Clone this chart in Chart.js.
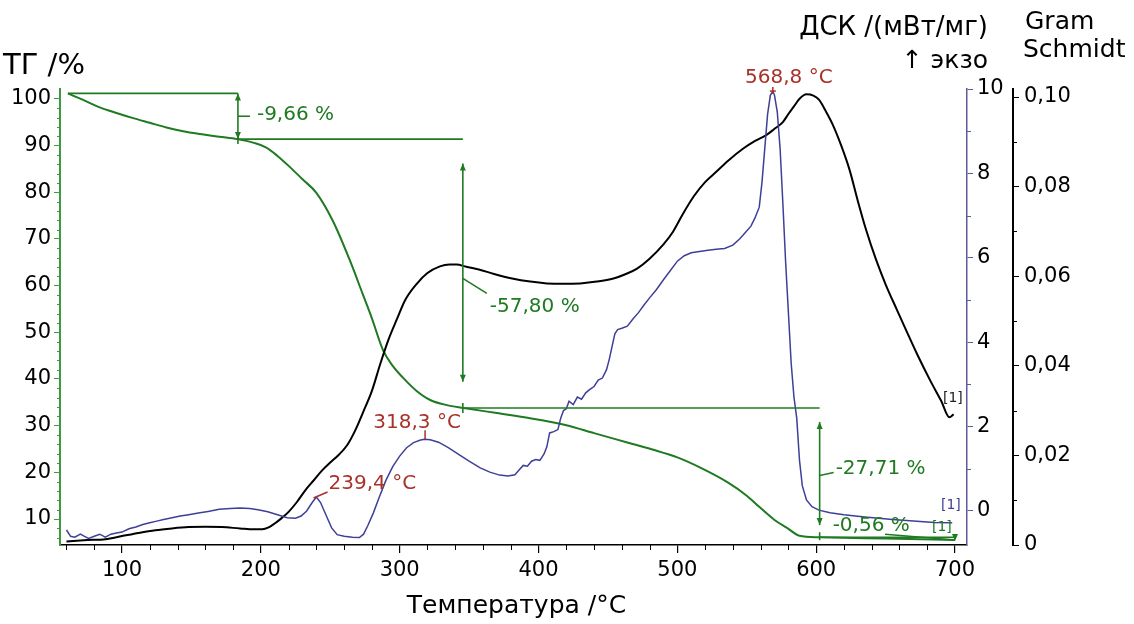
<!DOCTYPE html>
<html><head><meta charset="utf-8">
<script src="https://cdn.jsdelivr.net/npm/chart.js@4/dist/chart.umd.min.js"></script>
<style>html,body{margin:0;padding:0;background:#fff;}canvas{display:block;}</style>
</head><body>
<canvas id="c" width="1134" height="624"></canvas>
<script>
// ---------- DATA ----------
const tgTemps  = [61,72,84,96,108,120,132,144,156,170,183,195,204,212,221,230,240,252,264,273,280,288,295,302,312,322,334,346,370,394,420,440,464,482,500,518,536,550,559,570,579,588,602,650,700];
const tgValues = [101.2,99.8,98.2,97.0,95.9,94.9,93.9,93.1,92.5,91.9,91.4,90.6,89.6,87.8,85.4,82.8,79.9,73.8,65.5,58.5,53.0,46.2,42.8,40.4,37.5,35.5,34.4,33.8,32.7,31.6,30.1,28.4,26.4,24.9,23.2,20.8,17.9,15.0,12.6,9.8,8.1,6.4,6.1,5.8,5.5];

const dscTemps  = [60,63,66,70,73,76,80,84,88,92,96,100,105,110,115,120,125,130,136,142,148,155,162,170,178,185,192,198,205,212,219,225,229,233,237,240,243,247,251,255,260,266,271,274,277,281,285,290,295,300,305,310,315,318,322,328,335,343,350,358,365,372,378,383,386,389,392,395,398,401,404,406,408,411,414,416,418,420,422,425,428,431,434,437,440,443,446,449,451,453,455,457,460,464,468,472,476,480,485,490,495,500,505,510,516,522,528,534,540,545,549,553,556,559,561,563,565,567,568.8,570,572,574,576,578,580,582,584,586,588,590,593,597,602,610,620,635,655,670,685,698];
const dscValues = [-0.45,-0.6,-0.62,-0.55,-0.6,-0.65,-0.6,-0.55,-0.62,-0.55,-0.52,-0.5,-0.42,-0.38,-0.32,-0.28,-0.24,-0.2,-0.16,-0.12,-0.09,-0.05,-0.01,0.04,0.06,0.07,0.06,0.03,-0.02,-0.09,-0.16,-0.17,-0.12,0.0,0.2,0.33,0.2,-0.1,-0.4,-0.56,-0.6,-0.62,-0.63,-0.55,-0.35,-0.05,0.3,0.72,1.05,1.3,1.5,1.62,1.68,1.7,1.69,1.63,1.5,1.33,1.18,1.02,0.92,0.85,0.83,0.86,0.97,1.08,1.06,1.18,1.22,1.2,1.35,1.52,1.85,1.88,1.93,2.2,2.38,2.42,2.6,2.52,2.7,2.65,2.8,2.88,2.95,3.1,3.15,3.35,3.6,3.9,4.2,4.3,4.33,4.38,4.55,4.7,4.88,5.05,5.25,5.48,5.7,5.92,6.05,6.12,6.15,6.18,6.2,6.22,6.3,6.45,6.6,6.75,6.95,7.2,7.8,8.6,9.4,9.85,9.95,9.85,9.45,8.6,7.3,5.9,4.7,3.5,2.7,2.2,1.2,0.6,0.26,0.1,0.02,-0.04,-0.09,-0.14,-0.2,-0.24,-0.27,-0.28];

const gsTemps  = [60,75,88,100,112,124,136,148,160,172,185,195,201,206,210,215,220,226,232,238,244,250,256,262,268,274,280,286,292,298,304,312,320,329,336,341,348,357,368,381,394,406,418,430,442,454,463,471,480,490,497,504,512,520,528,537,547,556,564,570,576,580,584,588,593,598,602,607,612,618,624,630,636,643,650,658,665,673,682,690,696,699];
const gsValues = [0.0008,0.0011,0.0013,0.002,0.0027,0.0033,0.0037,0.004,0.0041,0.004,0.0037,0.0035,0.0035,0.004,0.0048,0.006,0.0074,0.0096,0.0122,0.0144,0.0166,0.0184,0.0201,0.0222,0.0256,0.0299,0.0344,0.0404,0.0459,0.0504,0.0547,0.0582,0.0607,0.0622,0.0626,0.0626,0.0621,0.0615,0.0605,0.0595,0.0588,0.0584,0.0583,0.0584,0.0588,0.0595,0.0605,0.0617,0.0639,0.0671,0.07,0.0739,0.0779,0.081,0.0833,0.0859,0.0884,0.0902,0.0915,0.0929,0.0944,0.0962,0.0979,0.0996,0.1006,0.1003,0.0994,0.0968,0.0938,0.0892,0.0838,0.0768,0.0703,0.0638,0.0582,0.0526,0.0478,0.0424,0.0368,0.0322,0.0285,0.0292];

const xTickValues   = [100,200,300,400,500,600,700];
const tgTickValues  = [10,20,30,40,50,60,70,80,90,100];
const dscTickValues = [0,2,4,6,8,10];
const gsTickValues  = [0,0.02,0.04,0.06,0.08,0.10];
const gsTickLabels  = ['0','0,02','0,04','0,06','0,08','0,10'];

// mass-loss steps
const stepTemps   = [183.5,345.5,602.5,700];
const stepLevels  = [101.2,91.4,33.8,6.1,5.5];
const arrowTop    = [101.2,86.2,30.8,6.1];
const arrowBottom = [91.4,39.4,8.7,5.5];
const stepLabels  = ['-9,66 %','-57,80 %','-27,71 %','-0,56 %'];
// DSC peaks
const peakTemps   = [239.4,318.3,568.8];
const peakValues  = [0.33,1.7,9.95];
const peakLabels  = ['239,4 °C','318,3 °C','568,8 °C'];

// ---------- STYLE ----------
const GREEN='#1f7a22', GREEN_AX='#3f9a3f', BLUE='#3f3f98', BLUE_AX='#5c5c96', RED='#a8322a';
const FONT='DejaVu Sans';
const pts=(a,b)=>a.map((t,i)=>({x:t,y:b[i]}));
const setTicks=vals=>s=>{s.ticks=vals.map(v=>({value:v}));};

const annot={
  id:'annot',
  afterDraw(chart){
    const {ctx,scales:{x,yTG,yDSC,yGS}}=chart;
    const X=t=>x.getPixelForValue(t), YT=v=>yTG.getPixelForValue(v), YD=v=>yDSC.getPixelForValue(v), YG=v=>yGS.getPixelForValue(v);
    ctx.save();
    // minor ticks
    ctx.lineWidth=1;
    ctx.strokeStyle='#000';
    const xb=x.top;
    for(let t=60;t<=700;t+=20){ if(t%100===0) continue; const p=Math.round(X(t))+0.5; ctx.beginPath();ctx.moveTo(p,xb);ctx.lineTo(p,xb+5);ctx.stroke(); }
    ctx.strokeStyle=GREEN_AX;
    const lx=yTG.right;
    for(let v=6;v<=100;v+=2){ if(v%10===0) continue; const p=Math.round(YT(v))+0.5; ctx.beginPath();ctx.moveTo(lx,p);ctx.lineTo(lx-3,p);ctx.stroke(); }
    ctx.strokeStyle=BLUE_AX;
    const dx=yDSC.left;
    for(let v=1;v<=9;v+=2){ const p=Math.round(YD(v))+0.5; ctx.beginPath();ctx.moveTo(dx,p);ctx.lineTo(dx+4,p);ctx.stroke(); }
    ctx.strokeStyle='#000';
    const gx=yGS.left;
    for(let v=0.01;v<0.1;v+=0.02){ const p=Math.round(YG(v))+0.5; ctx.beginPath();ctx.moveTo(gx,p);ctx.lineTo(gx+4,p);ctx.stroke(); }

    // step annotations
    ctx.strokeStyle=GREEN; ctx.fillStyle=GREEN; ctx.lineWidth=1.6;
    const line=(x1,y1,x2,y2)=>{ctx.beginPath();ctx.moveTo(x1,y1);ctx.lineTo(x2,y2);ctx.stroke();};
    const head=(px,py,dir)=>{ctx.beginPath();ctx.moveTo(px,py);ctx.lineTo(px-3,py-dir*7);ctx.lineTo(px+3,py-dir*7);ctx.closePath();ctx.fill();};
    const darrow=(t,v1,v2)=>{const px=X(t),a=YT(v1),b=YT(v2);line(px,a,px,b);head(px,a,-1);head(px,b,1);};
    line(X(tgTemps[0]),YT(stepLevels[0]),X(stepTemps[0]),YT(stepLevels[0]));
    line(X(stepTemps[0]),YT(stepLevels[1]),X(stepTemps[1]),YT(stepLevels[1]));
    line(X(stepTemps[1]),YT(stepLevels[2]),X(stepTemps[2]),YT(stepLevels[2]));
    line(X(stepTemps[2]),YT(stepLevels[3]),X(stepTemps[3]),YT(stepLevels[3]));
    for(let i=0;i<3;i++) darrow(stepTemps[i],arrowTop[i],arrowBottom[i]);
    // junction ticks
    line(X(stepTemps[0]),YT(stepLevels[1])-5,X(stepTemps[0]),YT(stepLevels[1])+5);
    line(X(stepTemps[1]),YT(stepLevels[2])-5,X(stepTemps[1]),YT(stepLevels[2])+5);
    line(X(stepTemps[2]),YT(stepLevels[3])-5,X(stepTemps[2]),YT(stepLevels[3])+3);
    // tiny last step
    const lx4=X(stepTemps[3]);
    line(lx4-70,YT(stepLevels[3])-3,lx4,YT(stepLevels[4]));
    head(lx4,YT(stepLevels[4])+1,1);

    ctx.font='20px "'+FONT+'"'; ctx.textBaseline='middle'; ctx.textAlign='left';
    // labels with leaders
    let ax=X(stepTemps[0]), ay=(YT(arrowTop[0])+YT(arrowBottom[0]))/2;
    line(ax,ay,ax+12,ay); ctx.fillText(stepLabels[0],ax+19,ay-1);
    ax=X(stepTemps[1]); ay=YT(arrowTop[1])+115;
    line(ax,ay,ax+24,ay+15); ctx.fillText(stepLabels[1],ax+27,ay+28);
    ax=X(stepTemps[2]); ay=(YT(arrowTop[2])+YT(arrowBottom[2]))/2+2;
    line(ax,ay,ax+14,ay-3); ctx.fillText(stepLabels[2],ax+16,ay-7);
    ctx.fillText(stepLabels[3],ax+13,YT(stepLevels[3])-11);

    // [1] markers
    ctx.font='14px "'+FONT+'"';
    ctx.fillStyle='#222'; ctx.fillText('[1]',943,398);
    ctx.fillStyle=BLUE; ctx.fillText('[1]',941,505);
    ctx.fillStyle=GREEN; ctx.fillText('[1]',932,527);

    // peak annotations
    ctx.strokeStyle=RED; ctx.fillStyle=RED; ctx.lineWidth=1.5;
    ctx.font='20px "'+FONT+'"';
    let px=X(peakTemps[0]), py=YD(peakValues[0]);
    line(px-2,py+1,px+12,py-5); ctx.textAlign='left'; ctx.fillText(peakLabels[0],px+13,py-13);
    px=X(peakTemps[1]); py=YD(peakValues[1]);
    line(px,py-9,px,py); ctx.textAlign='center'; ctx.fillText(peakLabels[1],px-8,py-16);
    px=X(peakTemps[2]); py=YD(peakValues[2]);
    line(px-3,py,px+3,py); line(px,py-4,px,py+3); ctx.fillText(peakLabels[2],px+16,py-13);

    // axis titles
    ctx.fillStyle='#000'; ctx.textBaseline='middle';
    ctx.font='29px "'+FONT+'"'; ctx.textAlign='left'; ctx.fillText('ТГ /%',3,66);
    ctx.font='26px "'+FONT+'"'; ctx.textAlign='right';
    ctx.fillText('ДСК /(мВт/мг)',988,28);
    ctx.font='25px "'+FONT+'"';
    ctx.fillText('↑ экзо',988,61);
    ctx.textAlign='left';
    ctx.fillText('Gram',1025,22); ctx.fillText('Schmidt',1023,50);
    ctx.textAlign='center';
    ctx.fillText('Температура /°C',(x.left+x.right)/2+3,606);
    ctx.restore();
  }
};

new Chart(document.getElementById('c'),{
  type:'line',
  data:{datasets:[
    {label:'ДСК',data:pts(dscTemps,dscValues),yAxisID:'yDSC',borderColor:BLUE,borderWidth:1.5,pointRadius:0,tension:0},
    {label:'Gram Schmidt',data:pts(gsTemps,gsValues),yAxisID:'yGS',borderColor:'#000',borderWidth:2,pointRadius:0,cubicInterpolationMode:'monotone'},
    {label:'ТГ',data:pts(tgTemps,tgValues),yAxisID:'yTG',borderColor:GREEN,borderWidth:2,pointRadius:0,cubicInterpolationMode:'monotone'}
  ]},
  options:{
    responsive:false,animation:false,devicePixelRatio:1,
    layout:{padding:{top:89,left:0,right:0,bottom:0}},
    plugins:{legend:{display:false},tooltip:{enabled:false},title:{display:false}},
    scales:{
      x:{type:'linear',position:'bottom',min:55.34,max:708.64,afterBuildTicks:setTicks(xTickValues),afterFit:s=>{s.height=79;},
        grid:{drawOnChartArea:false,tickLength:8,color:'#000',lineWidth:1.2},border:{color:'#000',width:1.5},
        ticks:{color:'#000',font:{family:FONT,size:21},padding:5,maxRotation:0,autoSkip:false}},
      yTG:{type:'linear',position:'left',min:4.43,max:102.14,afterBuildTicks:setTicks(tgTickValues),afterFit:s=>{s.width=60;},
        grid:{drawOnChartArea:false,tickLength:6,color:GREEN_AX},border:{color:GREEN_AX,width:2},
        ticks:{color:'#000',font:{family:FONT,size:21},padding:3,autoSkip:false}},
      yDSC:{type:'linear',position:'right',weight:0,min:-0.806,max:10,afterBuildTicks:setTicks(dscTickValues),afterFit:s=>{s.width=46;},
        grid:{drawOnChartArea:false,tickLength:6,color:BLUE_AX},border:{color:BLUE_AX,width:1.5},
        ticks:{color:'#000',font:{family:FONT,size:21},padding:4,autoSkip:false}},
      yGS:{type:'linear',position:'right',weight:1,min:0,max:0.10179,afterBuildTicks:setTicks(gsTickValues),afterFit:s=>{s.width=121;},
        grid:{drawOnChartArea:false,tickLength:6,color:'#000'},border:{color:'#000',width:2},
        ticks:{color:'#000',font:{family:FONT,size:21},padding:5,autoSkip:false,callback:(v,i)=>gsTickLabels[i]}}
    }
  },
  plugins:[annot]
});
</script></body></html>
